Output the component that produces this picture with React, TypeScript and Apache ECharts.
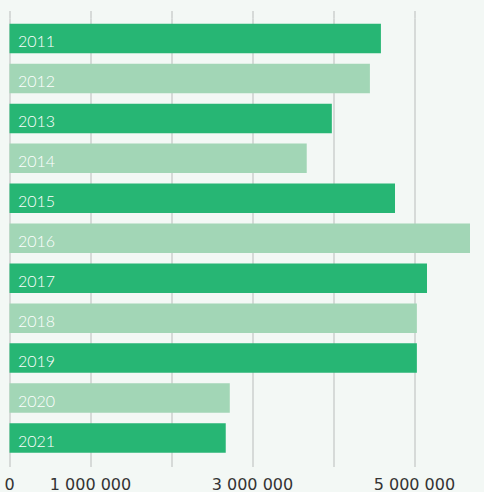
import React, { useEffect, useRef } from "react";
import * as echarts from "echarts";

const years = ["2011", "2012", "2013", "2014", "2015", "2016", "2017", "2018", "2019", "2020", "2021"];
const values = [4586000, 4450000, 3980000, 3670000, 4760000, 5686000, 5155000, 5030000, 5030000, 2720000, 2670000];
const tickValues = [0, 1000000, 2000000, 3000000, 4000000, 5000000];
const labelValues = [0, 1000000, 3000000, 5000000];

const DARK = "#27b674";
const LIGHT = "#a2d6b6";
const GRID = "#cdd0ce";

function fmt(v: number): string {
  return String(Math.round(v)).replace(/\B(?=(\d{3})+(?!\d))/g, " ");
}

export default function App() {
  const ref = useRef<HTMLDivElement>(null);
  useEffect(() => {
    if (!ref.current) return;
    const chart = echarts.init(ref.current, null, { renderer: "svg" });
    const maxV = Math.max(...values);
    chart.setOption({
      animation: false,
      backgroundColor: "#f3f8f5",
      grid: { left: 9.5, right: 14, top: 18.5, bottom: 33.5, containLabel: false },
      xAxis: [
        {
          type: "value",
          position: "bottom",
          min: 0,
          max: maxV,
          axisLine: { show: false },
          axisTick: {
            show: true,
            length: 9,
            customValues: tickValues,
            lineStyle: { color: GRID, width: 1.5 },
          },
          splitLine: { show: true, lineStyle: { color: GRID, width: 1.5 } },
          axisLabel: {
            customValues: labelValues,
            formatter: (v: number) => fmt(v),
            color: "#333333",
            fontFamily: "DejaVu Sans",
            fontSize: 16,
            margin: 18,
          },
        },
        {
          type: "value",
          position: "top",
          min: 0,
          max: maxV,
          axisLine: { show: false },
          axisTick: {
            show: true,
            length: 7.5,
            customValues: tickValues,
            lineStyle: { color: GRID, width: 1.5 },
          },
          splitLine: { show: false },
          axisLabel: { show: false },
        },
      ],
      yAxis: {
        type: "category",
        data: years,
        inverse: true,
        axisLine: { show: false },
        axisTick: { show: false },
        axisLabel: { show: false },
      },
      series: [
        {
          type: "bar",
          data: values,
          barWidth: 29.5,
          itemStyle: {
            color: (p: any) => (p.dataIndex % 2 === 0 ? DARK : LIGHT),
          },
          label: {
            show: true,
            position: "insideLeft",
            distance: 8.5,
            formatter: "{b}",
            color: "#ffffff",
            fontFamily: "Lato",
            fontWeight: 300,
            fontSize: 16,
            offset: [0, 2],
          },
        },
      ],
    });
    return () => chart.dispose();
  }, []);
  return (
    <div
      ref={ref}
      style={{ position: "fixed", left: 0, top: 0, width: 484, height: 492 }}
    />
  );
}
